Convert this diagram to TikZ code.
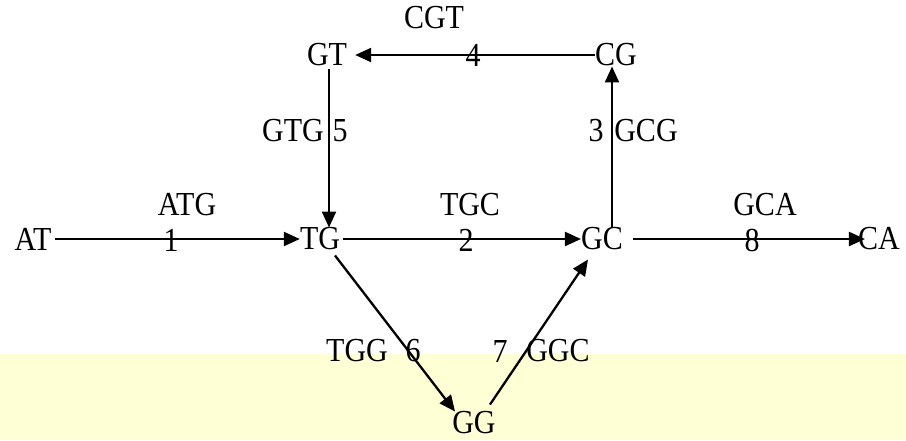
\documentclass[tikz,border=0pt]{standalone}
\usepackage{fontspec}
\setmainfont{Liberation Serif}
\usetikzlibrary{arrows.meta}
\definecolor{paleband}{RGB}{255,255,213}
% letters are set slightly taller than wide
\newcommand{\tallt}[1]{\scalebox{1}[1.12]{#1}}
\tikzset{
  vert/.style={inner sep=0pt, font=\fontsize{30}{36}\selectfont},
  lbl/.style={inner sep=0pt, font=\fontsize{30}{36}\selectfont},
  arr/.style={line width=2.3pt, -{Triangle[length=16pt,width=14pt]}}
}
\begin{document}
\begin{tikzpicture}[x=1pt,y=-1pt]
  \useasboundingbox (0,0) rectangle (906,440);
  % pale band along the bottom
  \fill[paleband] (0,354) rectangle (906,440);

  % vertices
  \node[vert] (AT) at (33,239) {\tallt{AT}};
  \node[vert] (TG) at (320,239) {\tallt{TG}};
  \node[vert] (GC) at (602,239) {\tallt{GC}};
  \node[vert] (CA) at (879,239) {\tallt{CA}};
  \node[vert] (GT) at (327,55) {\tallt{GT}};
  \node[vert] (CG) at (616,55) {\tallt{CG}};
  \node[vert] (GG) at (474,423) {\tallt{GG}};

  % edges
  \draw[arr] ([xshift=3pt]AT.east) -- (TG.west);
  \draw[arr] ([xshift=3pt]TG.east) -- (GC.west);
  \draw[arr] ([xshift=10pt]GC.east) -- ([xshift=7pt]CA.west);
  \draw[arr] ([xshift=-4pt]CG.south |- GC.north) -- ([xshift=-4pt]CG.south);
  \draw[arr] (CG.west) -- ([xshift=8pt]GT.east);
  \draw[arr] ([xshift=2pt,yshift=-3pt]GT.south) -- ([xshift=2pt]GT.south |- TG.north);
  \draw[arr] ([xshift=15pt,yshift=-5pt]TG.south) -- ([xshift=-19pt]GG.north);
  \draw[arr] ([xshift=16pt,yshift=7pt]GG.north) -- ([xshift=-14pt,yshift=-9pt]GC.south);

  % edge labels
  \node[lbl] (l1a) at (187,205) {\tallt{ATG}};
  \node[lbl] (l1b) at (171,240) {\tallt{1}};
  \node[lbl] (l2a) at (470,205) {\tallt{TGC}};
  \node[lbl] (l2b) at (466,240) {\tallt{2}};
  \node[lbl] (l8a) at (765,205) {\tallt{GCA}};
  \node[lbl] (l8b) at (752,240) {\tallt{8}};
  \node[lbl] (l4a) at (434,18) {\tallt{CGT}};
  \node[lbl] (l4b) at (473,55) {\tallt{4}};
  \node[lbl] (l5a) at (293,131) {\tallt{GTG}};
  \node[lbl] (l5b) at (340,131) {\tallt{5}};
  \node[lbl] (l3a) at (596,131) {\tallt{3}};
  \node[lbl] (l3b) at (646,131) {\tallt{GCG}};
  \node[lbl] (l6a) at (357,351) {\tallt{TGG}};
  \node[lbl] (l6b) at (413,351) {\tallt{6}};
  \node[lbl] (l7a) at (500,351) {\tallt{7}};
  \node[lbl] (l7b) at (558,351) {\tallt{GGC}};
\end{tikzpicture}
\end{document}
